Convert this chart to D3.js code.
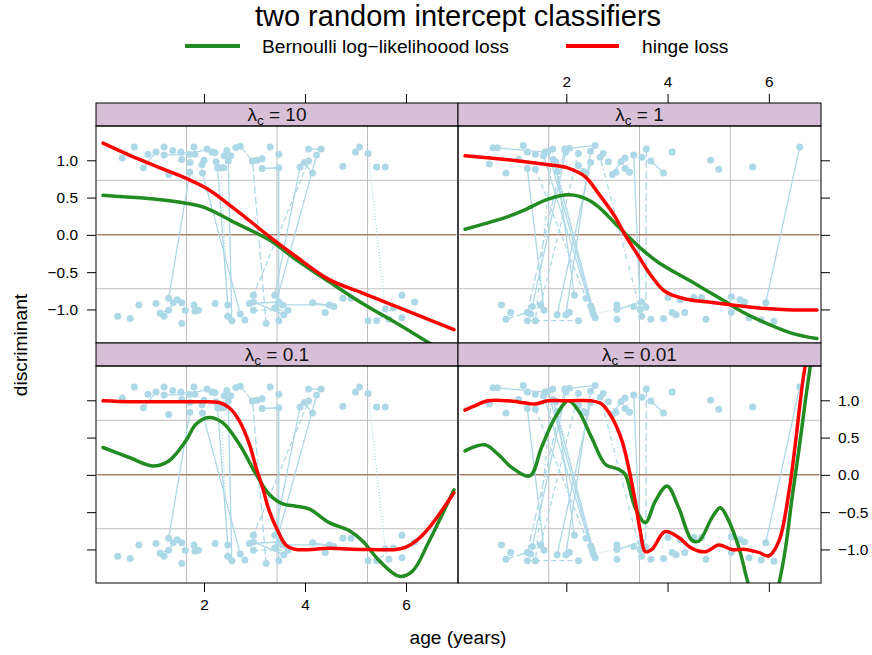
<!DOCTYPE html>
<html>
<head>
<meta charset="utf-8">
<script src="https://cdn.jsdelivr.net/npm/d3@7"></script>
<style>
  body { margin: 0; background: #fff; }
  text { font-family: "Liberation Sans", Arial, Helvetica, sans-serif; }
</style>
</head>
<body>
<svg id="chart" width="872" height="655"></svg>
<script>
// ---- data ----
var ageTicks = [2, 4, 6];
var discTicks = [-1, -0.5, 0, 0.5, 1];
var ageDomain = [-0.139, 7.03];
var discDomain = [-1.45, 1.46];
var lambdas = ["10", "1", "0.1", "0.01"];
var seriesNames = ["Bernoulli log\u2212likelihoood loss", "hinge loss"];

// observed discriminant sign per subject, one list per column of panels
var leftSubjects = [
  [[0.38, 1.03]], [[0.62, 1.18]], [[0.80, 0.90], [1.05, 1.11]], [[0.89, 1.08]],
  [[1.21, 1.18]], [[1.21, 1.07], [1.71, 1.08], [2.06, 1.15]], [[1.30, 0.81]],
  [[1.38, 1.13]], [[1.54, 1.11], [1.82, 1.08]], [[1.56, 1.01]], [[1.72, 0.97]],
  [[1.30, -0.85], [1.72, 0.84]], [[1.80, 1.18]], [[1.96, 0.94]],
  [[1.97, 0.83], [2.72, -1.06]], [[2.00, 1.00]], [[2.16, 1.11], [2.22, 1.10]],
  [[2.24, 0.98]], [[2.27, 0.90], [2.47, -0.94]], [[2.34, 0.90], [2.47, -1.09]],
  [[2.39, 0.90]], [[2.40, 1.06]], [[2.45, 1.13]], [[2.48, 0.99], [2.55, -1.15]],
  [[2.53, 1.06]], [[2.63, 1.17]], [[2.72, 1.19], [2.96, 0.99], [3.23, -1.19]],
  [[3.05, 1.00], [3.15, 1.02]], [[3.15, 0.89], [3.48, 0.90], [3.48, -1.15]],
  [[3.31, 1.18]], [[3.48, 1.08]], [[2.98, -0.81], [4.07, 0.99]],
  [[3.40, -0.81], [3.90, 0.91]], [[3.40, -0.98], [4.23, 1.07]],
  [[3.99, 0.97], [4.15, 0.83]], [[4.07, 1.15], [4.32, 1.15]], [[4.75, 0.92]],
  [[5.00, 1.11]], [[5.08, 1.18]], [[5.25, 1.09], [5.59, -0.99]], [[5.42, 0.91]],
  [[5.59, 0.91]],
  [[0.29, -1.09]], [[0.54, -1.12]], [[0.71, -0.94]], [[1.05, -0.92]],
  [[1.13, -1.05], [1.30, -1.01]], [[1.21, -1.09], [1.39, -0.91]], [[1.47, -0.87]],
  [[1.56, -0.91]], [[1.56, -1.19]], [[1.63, -1.01]], [[1.80, -0.94]],
  [[1.82, -1.02]], [[1.89, -1.01]], [[2.22, -0.92]], [[2.81, -1.14]],
  [[2.90, -0.92], [3.48, -0.90]], [[2.98, -0.90], [3.58, -1.07]],
  [[2.98, -1.01], [3.66, -1.01]], [[3.56, -0.94], [4.48, -0.94]],
  [[4.15, -0.91], [4.57, -0.96]], [[4.40, -1.04]], [[4.75, -0.85]], [[4.91, -0.85]],
  [[5.25, -1.15]], [[5.42, -1.15], [5.75, -0.98]], [[5.66, -1.13]], [[5.92, -1.11]],
  [[5.92, -0.81]], [[6.17, -0.90]]
];

var rightSubjects = [
  [[0.48, 0.95]], [[0.55, 1.17], [1.58, 1.11]], [[0.64, 1.17]], [[0.81, 0.83]],
  [[1.06, 1.01]], [[1.15, 1.20]], [[1.23, 1.11]], [[1.23, 0.89], [1.56, -1.01]],
  [[1.39, 1.08]], [[1.39, 0.88], [2.39, -0.85]], [[1.55, 1.06], [2.48, -0.95]],
  [[1.64, 1.12], [2.51, -1.00]], [[1.39, -1.15], [1.73, 1.15]],
  [[1.74, 1.01], [2.57, -1.11]], [[1.79, 0.98], [2.53, -1.06], [3.33, -0.96]],
  [[1.82, 0.85], [2.16, -0.81]], [[0.81, -1.13], [1.23, -1.04], [1.97, 1.15]],
  [[1.33, -0.96], [1.99, 1.11]], [[2.06, 1.16], [2.57, 1.20]],
  [[1.49, -0.94], [2.24, 1.09]], [[2.24, 0.93]], [[2.34, 0.85]], [[2.39, 0.83]],
  [[1.99, -1.07], [2.48, 1.12]], [[1.82, -1.07], [2.48, 0.97]],
  [[2.67, 1.04], [3.49, -1.09]], [[2.73, 1.09]], [[2.83, 0.98]],
  [[2.91, 0.81], [3.08, 0.98]], [[2.98, 0.84]], [[3.16, 1.03], [3.25, 0.84]],
  [[3.16, 0.89]], [[3.33, 1.07], [3.46, -1.00]], [[3.49, 1.04]],
  [[3.58, 1.15], [3.57, -0.97]], [[3.67, 0.99], [3.92, 0.83]], [[4.09, 1.11]],
  [[4.85, 1.00]], [[5.01, 0.88]], [[5.68, 0.91]], [[5.94, -0.91], [6.61, 1.18]],
  [[0.72, -0.94]], [[0.90, -1.04]], [[1.23, -1.15], [2.24, -1.15]], [[1.30, -1.06]],
  [[2.06, -1.04]], [[3.00, -0.94]], [[3.00, -1.00], [3.49, -0.90]], [[3.00, -1.13]],
  [[3.67, -1.13]], [[3.92, -1.12]], [[4.01, -0.84]], [[4.09, -1.04]], [[4.17, -1.07]],
  [[4.25, -0.87]], [[4.34, -1.04]], [[4.52, -0.84]], [[4.67, -0.84]], [[4.76, -1.13]],
  [[5.26, -0.83]], [[5.26, -1.04]], [[5.43, -0.87]], [[5.52, -0.90]], [[5.61, -1.11]],
  [[5.85, -1.14]], [[6.10, -1.16]]
];

// fitted discriminant curves, [age, value]
var bern10 = [[0, 0.53], [0.4, 0.51], [0.85, 0.49], [1.64, 0.425], [2.04, 0.36], [2.63, 0.157],
  [3.29, -0.067], [3.82, -0.33], [4.48, -0.63], [5.14, -0.92], [5.8, -1.18], [6.46, -1.45], [6.95, -1.65]];
var hinge10 = [[0, 1.23], [0.52, 1.07], [1.18, 0.886], [1.64, 0.76], [2.04, 0.627], [2.63, 0.336],
  [3.29, -0.02], [3.82, -0.29], [4.48, -0.60], [5.14, -0.78], [5.8, -0.96], [6.95, -1.27]];
var bern1 = [[0, 0.076], [0.85, 0.246], [1.18, 0.336], [1.64, 0.479], [2.04, 0.537], [2.37, 0.49],
  [2.63, 0.38], [2.96, 0.157], [3.16, 0.02], [3.43, -0.157], [3.82, -0.37], [4.48, -0.63],
  [5.14, -0.895], [5.47, -1.03], [5.8, -1.14], [6.46, -1.32], [6.95, -1.39]];
var hinge1 = [[0, 1.06], [0.85, 1.007], [1.64, 0.94], [2.04, 0.895], [2.37, 0.78], [2.63, 0.56],
  [2.96, 0.246], [3.16, 0], [3.43, -0.29], [3.69, -0.56], [3.95, -0.76], [4.35, -0.86],
  [4.81, -0.90], [5.27, -0.94], [5.8, -0.98], [6.46, -1.007], [6.95, -1.007]];
var bern01 = [[0, 0.367], [0.52, 0.233], [0.98, 0.12], [1.31, 0.19], [1.64, 0.456], [1.84, 0.68],
  [2.10, 0.77], [2.37, 0.70], [2.70, 0.41], [3.03, 0.01], [3.29, -0.26], [3.56, -0.39],
  [3.82, -0.42], [4.09, -0.46], [4.48, -0.64], [4.88, -0.75], [5.14, -0.886], [5.47, -1.15],
  [5.87, -1.36], [6.13, -1.29], [6.46, -0.886], [6.95, -0.2]];
var hinge01 = [[0, 0.993], [0.52, 0.98], [1.18, 0.98], [1.84, 0.98], [2.30, 0.97], [2.50, 0.90],
  [2.70, 0.725], [2.90, 0.41], [3.03, 0.1], [3.16, -0.17], [3.29, -0.48], [3.46, -0.75],
  [3.62, -0.94], [3.82, -1.0], [4.48, -0.985], [5.14, -1.0], [5.8, -1.0], [6.0, -0.97],
  [6.2, -0.886], [6.46, -0.707], [6.95, -0.24]];
var bern001 = [[0, 0.322], [0.39, 0.403], [0.65, 0.278], [0.92, 0.10], [1.28, -0.013], [1.51, 0.367],
  [1.78, 0.77], [2.04, 0.993], [2.24, 0.86], [2.50, 0.50], [2.77, 0.143], [3.03, 0.076],
  [3.16, 0.01], [3.36, -0.44], [3.56, -0.64], [3.76, -0.35], [3.99, -0.148], [4.22, -0.44],
  [4.48, -0.877], [4.62, -0.886], [4.88, -0.57], [5.04, -0.44], [5.21, -0.62], [5.41, -0.98],
  [5.6, -1.48], [5.8, -1.9], [6.0, -2.0], [6.2, -1.46], [6.33, -0.98], [6.46, -0.30],
  [6.6, 0.367], [6.73, 1.04], [6.85, 1.6]];
var hinge001 = [[0, 0.868], [0.19, 0.926], [0.45, 0.993], [0.85, 0.993], [1.18, 0.966], [1.38, 0.95],
  [1.64, 0.993], [2.04, 0.993], [2.50, 0.993], [2.70, 0.95], [2.90, 0.77], [3.10, 0.456],
  [3.23, 0.10], [3.36, -0.35], [3.46, -0.75], [3.56, -1.03], [3.69, -1.0], [3.95, -0.76],
  [4.22, -0.84], [4.48, -0.985], [4.75, -1.03], [5.01, -0.94], [5.27, -1.0], [5.54, -1.0],
  [5.8, -1.04], [6.0, -1.087], [6.2, -0.886], [6.4, -0.215], [6.53, 0.456], [6.66, 1.2], [6.75, 1.6]];

// ---- layout ----
var svg = d3.select("#chart");
var colors = ["#228b22", "#ff0000"];
// mostly solid, a few broken line types like the lattice groups
var ltys = [null, null, "5,3", null, null, "1,3,5,3", null, "1,2", null, "8,3"];
var cols = [[96, 458], [458, 821]];
var rows = [{strip: 103, top: 126, bottom: 343}, {strip: 343, top: 366, bottom: 583}];

var xs = cols.map(function (c) { return d3.scaleLinear().domain(ageDomain).range(c); });
var ys = rows.map(function (r) { return d3.scaleLinear().domain(discDomain).range([r.bottom, r.top]); });

var panels = [
  {lam: lambdas[0], row: 0, col: 0, subjects: leftSubjects, fits: [bern10, hinge10]},
  {lam: lambdas[1], row: 0, col: 1, subjects: rightSubjects, fits: [bern1, hinge1]},
  {lam: lambdas[2], row: 1, col: 0, subjects: leftSubjects, fits: [bern01, hinge01]},
  {lam: lambdas[3], row: 1, col: 1, subjects: rightSubjects, fits: [bern001, hinge001]}
];

var defs = svg.append("defs");

panels.forEach(function (p, pi) {
  var x = xs[p.col], y = ys[p.row], r = rows[p.row];
  var x0 = cols[p.col][0], x1 = cols[p.col][1];

  defs.append("clipPath").attr("id", "clip" + pi)
    .append("rect").attr("x", x0).attr("y", r.top).attr("width", x1 - x0).attr("height", r.bottom - r.top);

  var g = svg.append("g");
  var inner = g.append("g").attr("clip-path", "url(#clip" + pi + ")");

  // panel.grid(h = 3, v = 3)
  var vgrid = d3.range(1, 4).map(function (i) { return ageDomain[0] + i * (ageDomain[1] - ageDomain[0]) / 4; });
  var hgrid = d3.range(1, 4).map(function (i) { return discDomain[0] + i * (discDomain[1] - discDomain[0]) / 4; });
  inner.selectAll(".vg").data(vgrid).enter().append("line")
    .attr("x1", x).attr("x2", x).attr("y1", r.top).attr("y2", r.bottom)
    .attr("stroke", "#bebebe").attr("stroke-width", 1);
  inner.selectAll(".hg").data(hgrid).enter().append("line")
    .attr("y1", y).attr("y2", y).attr("x1", x0).attr("x2", x1)
    .attr("stroke", "#bebebe").attr("stroke-width", 1);

  inner.append("line")
    .attr("x1", x0 + 2).attr("x2", x1 - 2).attr("y1", y(0)).attr("y2", y(0))
    .attr("stroke", "#a57f6c").attr("stroke-width", 1.5);

  // subjects: lines then points
  var line = d3.line().x(function (d) { return x(d[0]); }).y(function (d) { return y(d[1]); });
  inner.selectAll(".subj").data(p.subjects.filter(function (s) { return s.length > 1; }))
    .enter().append("path")
    .attr("d", line)
    .attr("fill", "none")
    .attr("stroke", "#add8e6")
    .attr("stroke-width", 1.3)
    .attr("stroke-dasharray", function (d, i) { return ltys[i % ltys.length]; });

  var pts = [].concat.apply([], p.subjects);
  inner.selectAll(".pt").data(pts).enter().append("circle")
    .attr("cx", function (d) { return x(d[0]); })
    .attr("cy", function (d) { return y(d[1]); })
    .attr("r", 3.5)
    .attr("fill", "#add8e6");

  // fitted curves
  var curve = d3.line().curve(d3.curveCatmullRom.alpha(0.5))
    .x(function (d) { return x(d[0]); }).y(function (d) { return y(d[1]); });
  p.fits.forEach(function (f, fi) {
    inner.append("path").attr("d", curve(f))
      .attr("fill", "none").attr("stroke", colors[fi]).attr("stroke-width", 3.5)
      .attr("stroke-linecap", "round").attr("stroke-linejoin", "round");
  });

  // strip
  g.append("rect").attr("x", x0).attr("y", r.strip).attr("width", x1 - x0).attr("height", r.top - r.strip)
    .attr("fill", "#d8bfd8").attr("stroke", "#000").attr("stroke-width", 1);
  var st = g.append("text").attr("x", (x0 + x1) / 2).attr("y", r.strip + 18)
    .attr("text-anchor", "middle").attr("font-size", 19).attr("fill", "#111");
  st.append("tspan").text("\u03bb");
  st.append("tspan").attr("dy", 4).attr("font-size", 13.5).text("c");
  st.append("tspan").attr("dy", -4).text(" = " + p.lam);

  // frame
  g.append("rect").attr("x", x0).attr("y", r.top).attr("width", x1 - x0).attr("height", r.bottom - r.top)
    .attr("fill", "none").attr("stroke", "#000").attr("stroke-width", 1);
});

// ---- axes ----
function styleAxis(sel) {
  sel.select(".domain").remove();
  sel.selectAll(".tick line").attr("stroke", "#000");
  sel.selectAll(".tick text").attr("font-size", 15.4).attr("fill", "#000")
    .attr("font-family", "Liberation Sans, Arial, sans-serif");
}
function noLabel() { return ""; }

// top axes
svg.append("g").attr("transform", "translate(0," + rows[0].strip + ")")
  .call(d3.axisTop(xs[0]).tickValues(ageTicks).tickSize(9).tickFormat(noLabel)).call(styleAxis);
svg.append("g").attr("transform", "translate(0," + rows[0].strip + ")")
  .call(d3.axisTop(xs[1]).tickValues(ageTicks).tickSize(9).tickPadding(7)).call(styleAxis);
// bottom axes
svg.append("g").attr("transform", "translate(0," + rows[1].bottom + ")")
  .call(d3.axisBottom(xs[0]).tickValues(ageTicks).tickSize(9).tickPadding(7)).call(styleAxis);
svg.append("g").attr("transform", "translate(0," + rows[1].bottom + ")")
  .call(d3.axisBottom(xs[1]).tickValues(ageTicks).tickSize(9).tickFormat(noLabel)).call(styleAxis);
// left axes
svg.append("g").attr("transform", "translate(" + cols[0][0] + ",0)")
  .call(d3.axisLeft(ys[0]).tickValues(discTicks).tickSize(9).tickPadding(9).tickFormat(d3.format(".1f"))).call(styleAxis);
svg.append("g").attr("transform", "translate(" + cols[0][0] + ",0)")
  .call(d3.axisLeft(ys[1]).tickValues(discTicks).tickSize(9).tickFormat(noLabel)).call(styleAxis);
// right axes
svg.append("g").attr("transform", "translate(" + cols[1][1] + ",0)")
  .call(d3.axisRight(ys[0]).tickValues(discTicks).tickSize(9).tickFormat(noLabel)).call(styleAxis);
svg.append("g").attr("transform", "translate(" + cols[1][1] + ",0)")
  .call(d3.axisRight(ys[1]).tickValues(discTicks).tickSize(9).tickPadding(8).tickFormat(d3.format(".1f"))).call(styleAxis);

// ---- titles ----
svg.append("text").attr("x", 458).attr("y", 26).attr("text-anchor", "middle")
  .attr("font-size", 29).attr("fill", "#000").text("two random intercept classifiers");

svg.append("text").attr("x", 458).attr("y", 644).attr("text-anchor", "middle")
  .attr("font-size", 19.2).attr("fill", "#000").text("age (years)");

svg.append("text").attr("transform", "translate(27,345) rotate(-90)").attr("text-anchor", "middle")
  .attr("font-size", 19.2).attr("fill", "#000").text("discriminant");

// legend
var legendX = [[185, 240, 262], [566, 619, 642]];
seriesNames.forEach(function (name, i) {
  var lg = svg.append("g");
  lg.append("line").attr("x1", legendX[i][0]).attr("x2", legendX[i][1]).attr("y1", 46).attr("y2", 46)
    .attr("stroke", colors[i]).attr("stroke-width", 4);
  lg.append("text").attr("x", legendX[i][2]).attr("y", 52.5).attr("font-size", 19.2).attr("fill", "#000").text(name);
});
</script>
</body>
</html>
